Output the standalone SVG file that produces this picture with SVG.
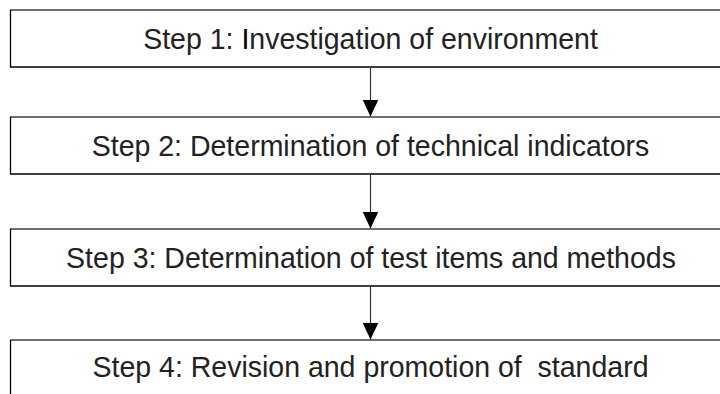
<svg xmlns="http://www.w3.org/2000/svg" width="720" height="394" viewBox="0 0 720 394">
  <style>
    .box { fill: #ffffff; stroke: none; }
    .edge { fill: none; stroke: #000000; stroke-width: 1.3; }
    .top { fill: none; stroke: #707070; stroke-width: 2; }
    .label { font-family: "Liberation Sans", Arial, sans-serif; font-size: 29.6px; fill: #222222; text-anchor: middle; white-space: pre; }
    .conn { stroke: #333333; stroke-width: 1.2; fill: none; marker-end: url(#arrow); }
  </style>
  <defs>
    <marker id="arrow" viewBox="0 0 17 16" refX="17" refY="8" markerWidth="17" markerHeight="16" markerUnits="userSpaceOnUse" orient="auto">
      <path d="M0,0 L17,8 L0,16 z" fill="#000000"/>
    </marker>
  </defs>
  <rect x="0" y="0" width="720" height="394" fill="#ffffff"/>

  <g id="step1">
    <rect class="box" x="10" y="10" width="720" height="57"/>
    <path class="top" d="M10,10 H730"/>
    <path class="edge" d="M10.5,10 V67 H730"/>
    <text class="label" transform="translate(370.5,49) scale(0.963,1)" x="0" y="0">Step 1: <tspan fill="#000000">I</tspan>nvestigation of environment</text>
  </g>

  <g id="step2">
    <rect class="box" x="10" y="117" width="720" height="57"/>
    <path class="top" d="M10,117 H730"/>
    <path class="edge" d="M10.5,117 V174 H730"/>
    <text class="label" transform="translate(370.5,156) scale(0.963,1)" x="0" y="0">Step 2: Determination of technical indicators</text>
  </g>

  <g id="step3">
    <rect class="box" x="10" y="229" width="720" height="57"/>
    <path class="top" d="M10,229 H730"/>
    <path class="edge" d="M10.5,229 V286 H730"/>
    <text class="label" transform="translate(371,268) scale(0.963,1)" x="0" y="0">Step 3: Determination of test items and methods</text>
  </g>

  <g id="step4">
    <rect class="box" x="10" y="340" width="720" height="60"/>
    <path class="top" d="M10,340 H730"/>
    <path class="edge" d="M10.5,340 V400"/>
    <text class="label" transform="translate(370.5,377) scale(0.963,1)" x="0" y="0">Step 4: Revision and promotion of  standard</text>
  </g>

  <g id="connectors">
    <path class="conn" d="M370.5,67 V116.5"/>
    <path class="conn" d="M370.5,174 V228.5"/>
    <path class="conn" d="M370.5,286 V339.5"/>
  </g>
</svg>
